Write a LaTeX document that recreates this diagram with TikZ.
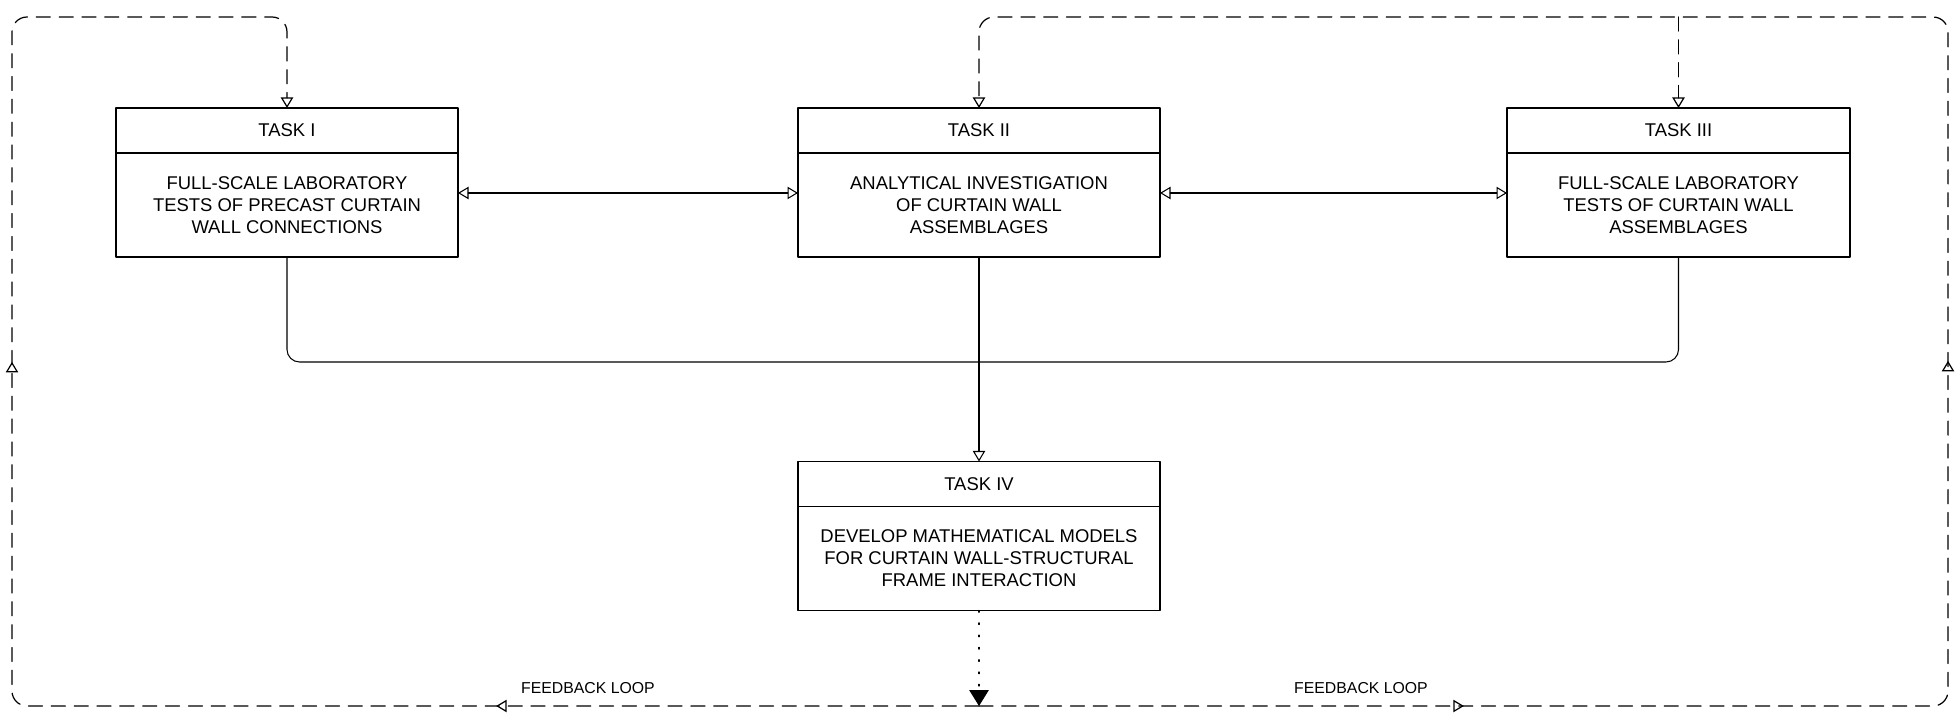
\documentclass[tikz,border=0pt]{standalone}
\usepackage{fontspec}
\setmainfont{Liberation Sans}
\usetikzlibrary{arrows.meta,positioning,decorations.markings}
\tikzset{
  every picture/.style={
    line join=round,
    line cap=round,
  },
  tasktitle/.style={draw, line width=1.1pt, outer sep=0pt, minimum height=0.9cm,
    font=\fontsize{10.5}{12.5}\selectfont},
  taskbody/.style={draw, line width=1.1pt, outer sep=0pt, minimum height=2.08cm, align=center,
    font=\fontsize{10.5}{12.5}\selectfont},
  link/.style={line width=0.6pt},
  opentip/.style={-{Triangle[open,length=6pt,width=7pt]}},
  bothtips/.style={{Triangle[open,length=6pt,width=7pt]}-{Triangle[open,length=6pt,width=7pt]}},
  fbloop/.style={line width=0.7pt, dash pattern=on 8pt off 5pt, rounded corners=0.3cm},
  % open tips half way along the bottom and the side of a loop
  midtips/.style 2 args={postaction={decorate}, decoration={markings,
    mark=at position #1 with {\arrow{Triangle[open,length=6pt,width=7pt]}},
    mark=at position #2 with {\arrow{Triangle[open,length=6pt,width=7pt]}}}},
  fblabel/.style={font=\fontsize{9}{11}\selectfont},
}

\begin{document}
\begin{tikzpicture}[x=0.02cm,y=-0.02cm]
\useasboundingbox (0,0) rectangle (1960,716);
% tasks
\node[tasktitle,minimum width=6.84cm] (t1) at (287,130.5) {TASK I};
\node[taskbody,minimum width=6.84cm,below=0pt of t1] (b1) {FULL-SCALE LABORATORY\\TESTS OF PRECAST CURTAIN\\WALL CONNECTIONS};
\node[tasktitle,minimum width=7.24cm] (t2) at (979,130.5) {TASK II};
\node[taskbody,minimum width=7.24cm,below=0pt of t2] (b2) {ANALYTICAL INVESTIGATION\\OF CURTAIN WALL\\ASSEMBLAGES};
\node[tasktitle,minimum width=6.86cm] (t3) at (1678.5,130.5) {TASK III};
\node[taskbody,minimum width=6.86cm,below=0pt of t3] (b3) {FULL-SCALE LABORATORY\\TESTS OF CURTAIN WALL\\ASSEMBLAGES};
\node[tasktitle,minimum width=7.24cm] (t4) at (979,484) {TASK IV};
\node[taskbody,minimum width=7.24cm,below=0pt of t4] (b4) {DEVELOP MATHEMATICAL MODELS\\FOR CURTAIN WALL-STRUCTURAL\\FRAME INTERACTION};
% links between tasks
\draw[link,bothtips] ([yshift=0.24cm]b1.east) -- ([yshift=0.24cm]b2.west);
\draw[link,bothtips] ([yshift=0.24cm]b2.east) -- ([yshift=0.24cm]b3.west);
\coordinate (merge) at (979,362);
\draw[link,rounded corners=0.25cm] (b1.south) |- (merge);
\draw[link,rounded corners=0.25cm] (b3.south) |- (merge);
\draw[link,opentip] (b2.south) -- (t4.north);
% feedback loops
\coordinate (fb) at (979,706);
\coordinate (lcorner) at (12,17);
\coordinate (rcorner) at (1948,17);
\draw[link,dash pattern=on 1pt off 6pt,-{Triangle[length=9pt,width=11pt]}] (b4.south) -- (fb);
\draw[fbloop,opentip,midtips={9.66cm}{26.1cm}] (fb) -| (lcorner) -| (t1.north);
\draw[fbloop,opentip,midtips={9.7cm}{26.16cm}] (fb) -| (rcorner) -| (t2.north);
\draw[fbloop,opentip] (t3.north |- rcorner) -- (t3.north);
\node[fblabel] (fbl1) at (588,688) {FEEDBACK LOOP};
\node[fblabel] (fbl2) at (1361,688) {FEEDBACK LOOP};
\end{tikzpicture}
\end{document}
